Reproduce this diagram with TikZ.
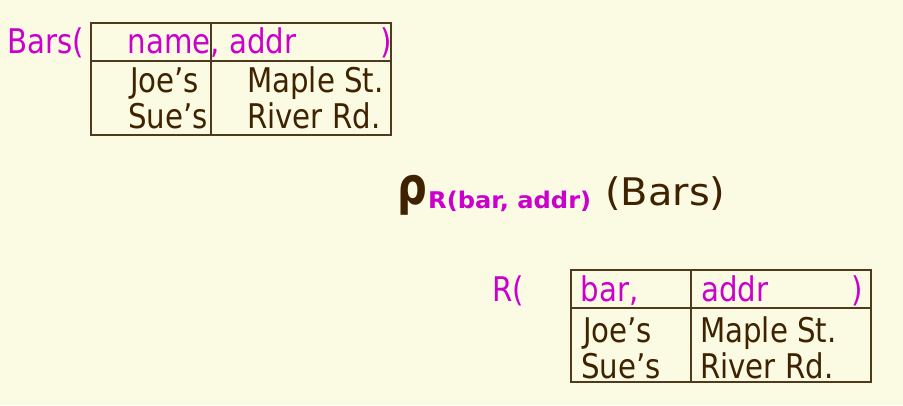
\documentclass[tikz,border=0pt]{standalone}
\usepackage{fontspec}
\setmainfont{DejaVu Sans}
\definecolor{bg}{HTML}{FBFAE3}
\definecolor{mag}{HTML}{CC00CC}
\definecolor{brn}{HTML}{3F2200}
\definecolor{rulec}{HTML}{4F3A1E}
\begin{document}
\begin{tikzpicture}[x=1pt,y=-1pt,
  txt/.style={inner sep=0pt, anchor=base west, xscale=0.86, font=\fontsize{34}{40}\selectfont},
  hd/.style={txt, text=mag},
  cell/.style={txt, text=brn},
  grid/.style={draw=rulec, line width=1.3pt}]
\fill[bg] (0,0) rectangle (903,405);
\useasboundingbox (0,0) rectangle (903,405);
% table 1
\draw[grid] (91,23) rectangle (391,135);
\draw[grid] (91,61) -- (391,61);
\draw[grid] (211,23) -- (211,135);
\node[hd] (bars) at (7,53) {Bars(};
\node[hd] (h1) at (127.5,53) {name, addr};
\node[hd] (c1) at (380,53) {)};
\node[cell] (j1) at (130,92) {Joe’s};
\node[cell] (m1) at (247,92) {Maple St.};
\node[cell] (s1) at (128,128) {Sue’s};
\node[cell] (r1) at (247,128) {River Rd.};
% rename expression
\node[inner sep=0pt, anchor=base west, text=brn, font=\bfseries\fontsize{52}{60}\selectfont, xscale=0.8] (rho) at (397,204) {ρ};
\node[inner sep=0pt, anchor=base west, text=mag, font=\bfseries\fontsize{23}{28}\selectfont, xscale=1.05] (sub) at (428,208) {R(bar, addr)};
\node[inner sep=0pt, anchor=base west, text=brn, font=\fontsize{38}{44}\selectfont, xscale=1.05] (arg) at (605,205) {(Bars)};
% table 2
\draw[grid] (571,270) rectangle (871,382);
\draw[grid] (571,308) -- (871,308);
\draw[grid] (691,270) -- (691,382);
\node[hd] (rr) at (492,301) {R(};
\node[hd] (h2a) at (580.5,301) {bar,};
\node[hd] (h2b) at (701,301) {addr};
\node[hd] (c2) at (851,301) {)};
\node[cell] (j2) at (583,342) {Joe’s};
\node[cell] (m2) at (700,342) {Maple St.};
\node[cell] (s2) at (581,378) {Sue’s};
\node[cell] (r2) at (700,378) {River Rd.};
\end{tikzpicture}
\end{document}
